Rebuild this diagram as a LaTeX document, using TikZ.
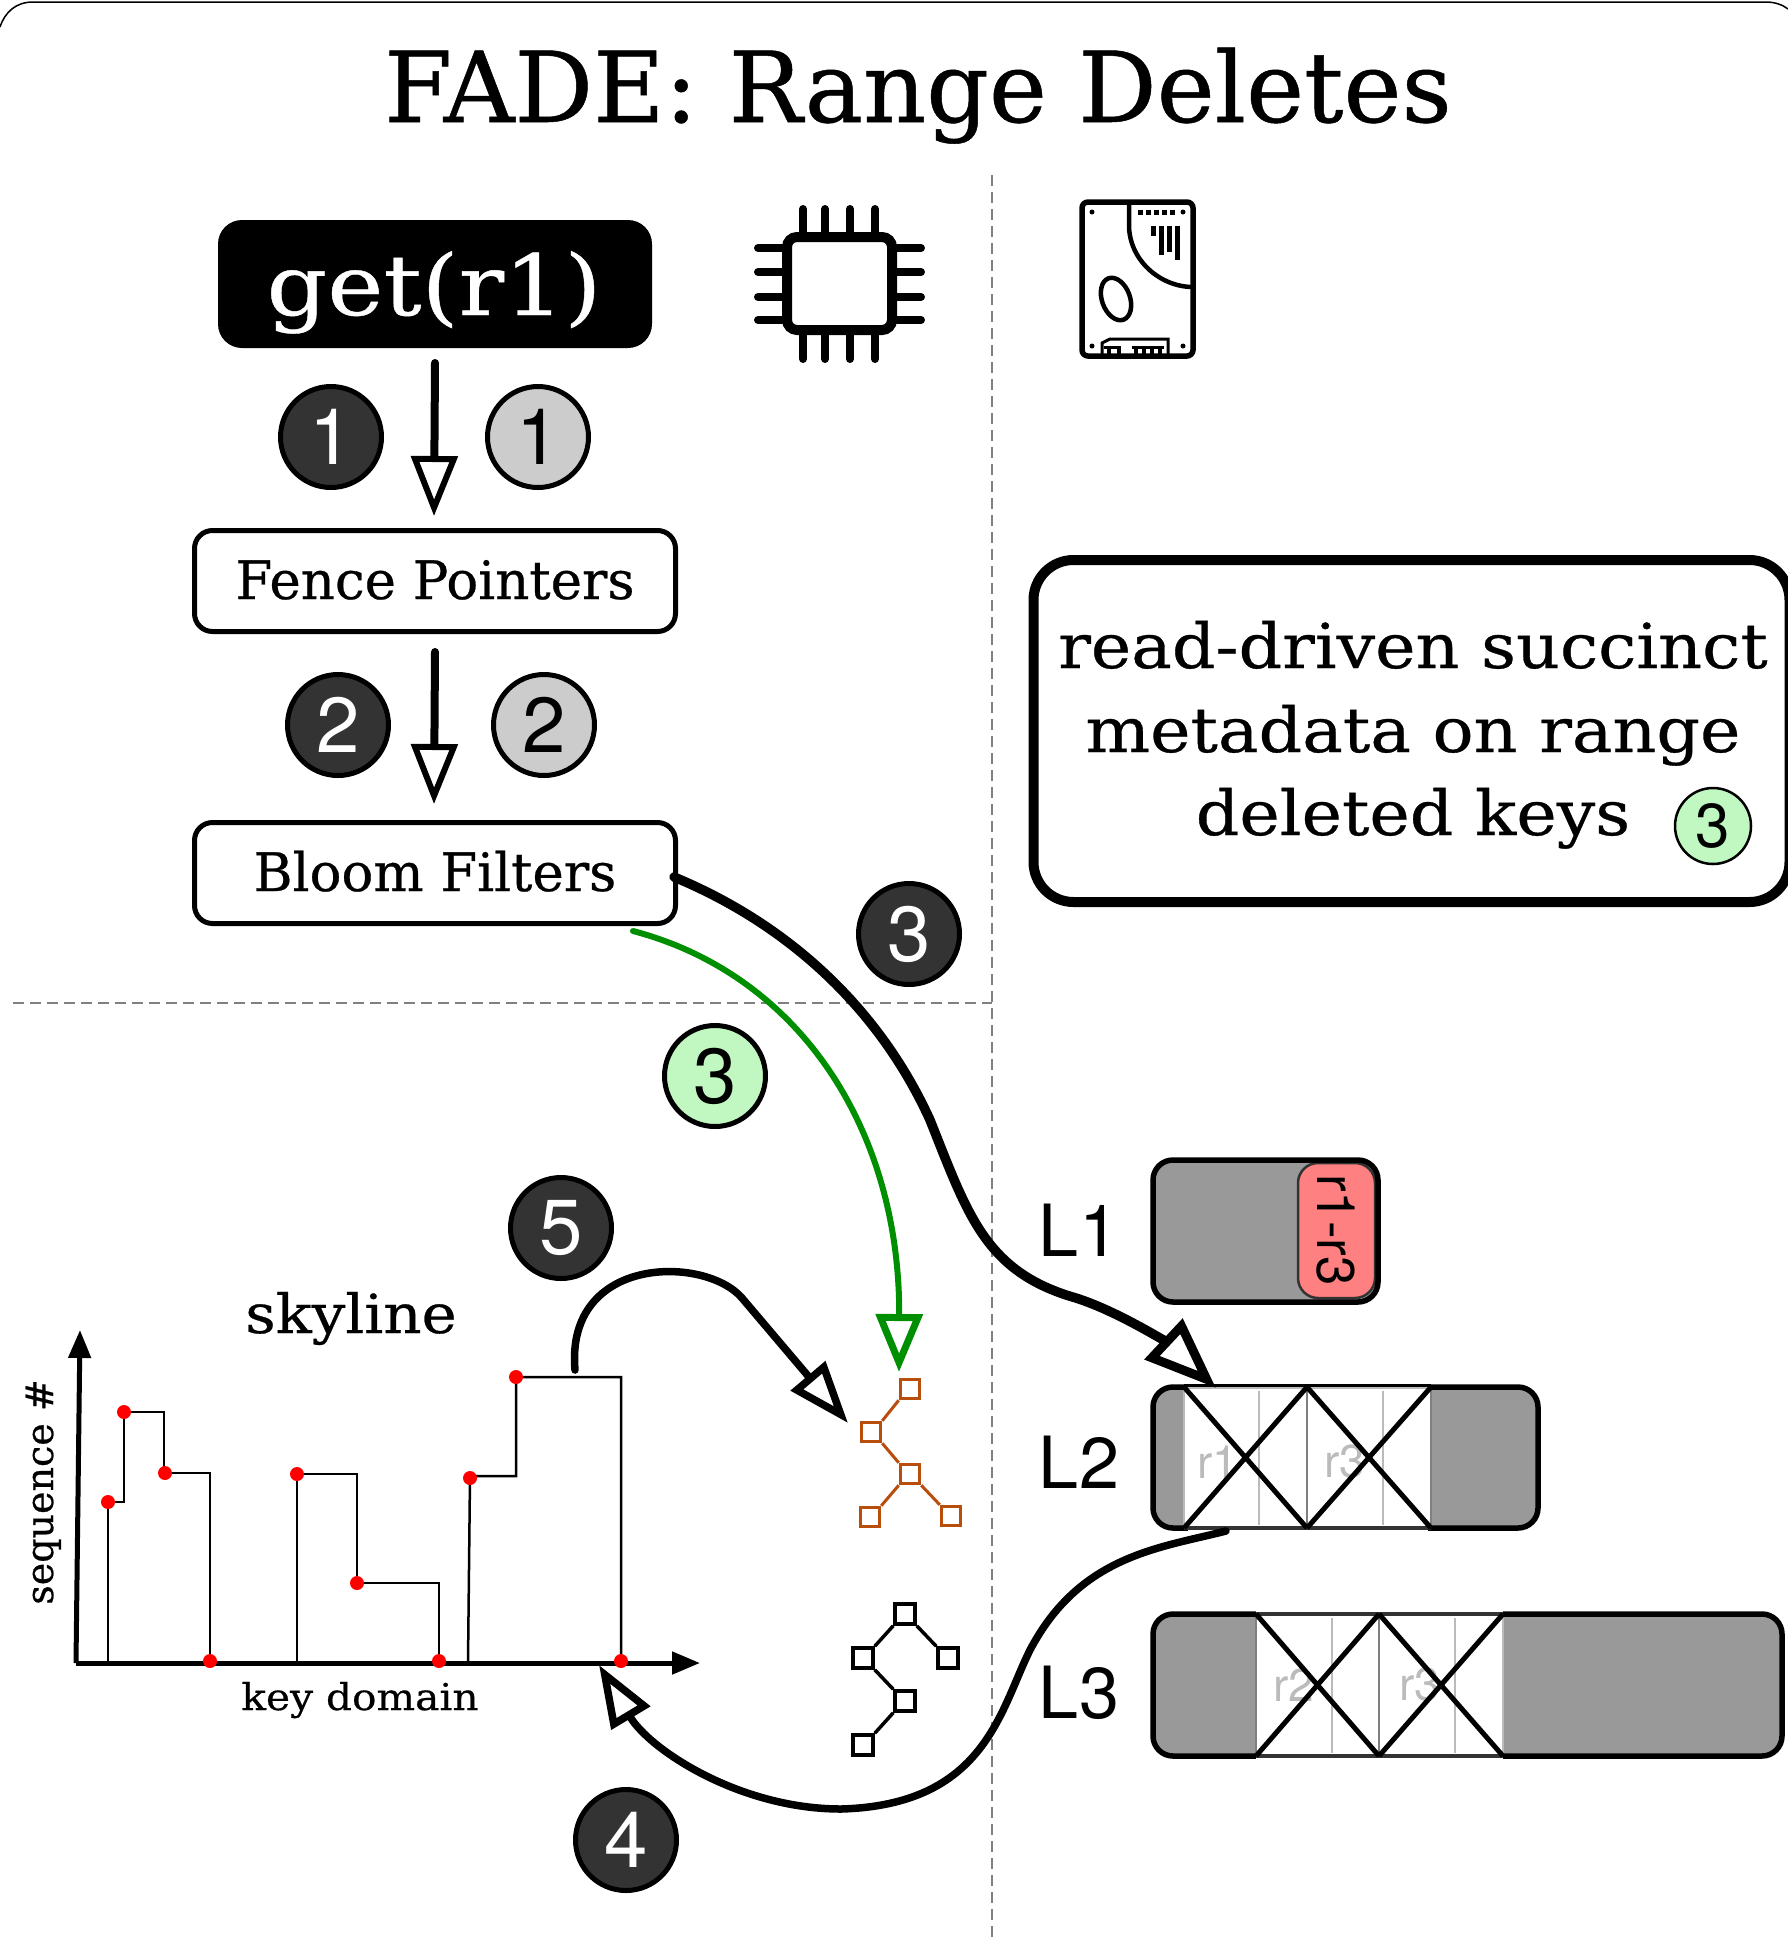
\documentclass[tikz,border=0pt]{standalone}
\usepackage{fontspec}
\usetikzlibrary{arrows.meta,calc}
\newfontfamily\slab[FakeBold=0.5]{DejaVu Serif}
\newfontfamily\slabw[FakeBold=0.5,FakeStretch=1.1]{DejaVu Serif}
\newfontfamily\slabg[FakeBold=0.5,FakeStretch=1.13]{DejaVu Serif}
\newfontfamily\hv{TeX Gyre Heros}
\definecolor{darkc}{HTML}{333333}
\definecolor{lightc}{HTML}{CCCCCC}
\definecolor{greenc}{HTML}{C1F7C1}
\definecolor{greenl}{HTML}{008F00}
\definecolor{lvl}{HTML}{999999}
\definecolor{redb}{HTML}{FF8080}
\definecolor{treeo}{HTML}{B94E0C}
\definecolor{dashc}{HTML}{808080}
\definecolor{ghost}{HTML}{BBBBBB}
\tikzset{
  badge/.style={circle,draw=black,line width=5pt,minimum size=101pt,inner sep=0pt,font=\fontsize{78}{78}\selectfont\hv},
  bdark/.style={badge,fill=darkc,text=white},
  blight/.style={badge,fill=lightc,text=black},
  bgreen/.style={badge,fill=greenc,text=black},
  fbox/.style={draw=black,line width=5pt,rounded corners=18pt,fill=white,inner sep=0pt,minimum width=481pt,minimum height=101pt},
  ftext/.style={anchor=base,inner sep=0pt,font=\fontsize{53}{53}\selectfont\slab},
  notetext/.style={anchor=base,inner sep=0pt,font=\fontsize{62}{62}\selectfont\slabw},
  dashline/.style={draw=dashc,line width=2.5pt,dash pattern=on 11pt off 6pt},
  flowarrow/.style={line width=8pt,line cap=round,-{Triangle[open,fill=white,line width=6pt,length=60pt,width=46pt]}},
  curvearrow/.style={line width=7.5pt,line cap=round,-{Triangle[open,fill=white,line width=7.5pt,length=62pt,width=44pt]}},
  levelbox/.style={draw=black,line width=5.5pt,rounded corners=20pt},
  ghosttext/.style={text=ghost,font=\fontsize{46}{46}\selectfont\hv,inner sep=0pt},
  lvllabel/.style={font=\fontsize{72}{72}\selectfont\hv,inner sep=0pt},
  treeorange/.style={draw=treeo,line width=3pt,minimum size=19.5pt,inner sep=0pt,fill=white},
  treeblack/.style={draw=black,line width=3.5pt,minimum size=20pt,inner sep=0pt,fill=white},
  reddot/.style={circle,fill=red,minimum size=14pt,inner sep=0pt},
  pinline/.style={line width=8pt,line cap=round},
}
\begin{document}
\begin{tikzpicture}[x=1pt,y=-1pt]
\useasboundingbox (0,0) rectangle (1788,1939);
% frame
\draw[line width=1.5pt] (0,27) .. controls (5,12) and (16,2) .. (33,2) -- (1766,2) .. controls (1775,2) and (1783,5) .. (1788,9);
% title
\node[inner sep=0pt,anchor=base] (title) at (918,122) {\fontsize{98}{98}\selectfont\slab FADE: Range Deletes};
% dashed
\draw[dashline] (992,175) -- (992,1939);
\draw[dashline] (13,1003) -- (992,1003);
% get
\node[fill=black,rounded corners=24pt,minimum width=434pt,minimum height=128pt,inner sep=0pt] (get) at (435,284) {};
\node[anchor=base,inner sep=0pt,text=white,font=\fontsize{84}{84}\selectfont\slabg] (gettext) at (434,315) {get(r1)};
% chip
\draw[draw=black,line width=10pt,rounded corners=10pt,fill=white] (787,237) rectangle (892,330);
\foreach \x in {803,825,850,875}{\draw[pinline] (\x,209) -- (\x,232); \draw[pinline] (\x,335) -- (\x,359);}
\foreach \y in {248,272,297,320}{\draw[pinline] (758,\y) -- (782,\y); \draw[pinline] (897,\y) -- (921,\y);}
% disk
\draw[line width=5.5pt,rounded corners=6pt] (1082,202) rectangle (1193,356);
\draw[line width=4.5pt] (1129,202) -- (1129,225) .. controls (1129,260) and (1160,287) .. (1193,287);
\draw[line width=4.5pt,rotate around={20:(1116,299)}] (1116,299) ellipse [x radius=14,y radius=22];
\foreach \p in {(1092,212),(1183,212),(1092,346),(1183,346)}{\fill \p circle (2.5);}
\foreach \x in {1140,1148,1156,1164,1172}{\fill (\x-2.5,209.5) rectangle (\x+2.5,214.5);}
\fill (1150.5,226) rectangle (1155.5,236);
\fill (1158.5,226) rectangle (1163.5,255);
\fill (1166.5,226) rectangle (1171.5,252);
\fill (1174.5,226) rectangle (1179.5,260);
\draw[line width=3pt] (1102,356) -- (1102,343) -- (1110,339) -- (1168,339) -- (1168,356);
\foreach \x in {1107,1117,1134,1142,1150,1158}{\fill (\x,348) rectangle (\x+4,356);}
\fill (1104,346) rectangle (1121,349);
\fill (1132,346) rectangle (1164,349);
% fence pointers, bloom
\node[fbox] (fence) at (435,581) {};
\node[ftext] (fencet) at (435,599) {Fence Pointers};
\node[fbox] (bloom) at (435,873) {};
\node[ftext] (bloomt) at (435,891) {Bloom Filters};
% flow arrows
\coordinate (a1e) at (434,516);
\coordinate (a2e) at (434,804);
\draw[flowarrow] (435,363) -- (a1e);
\draw[flowarrow] (435,652) -- (a2e);
% badges
\node[bdark] (n1a) at (331,437) {1};
\node[blight] (n1b) at (538,437) {1};
\node[bdark] (n2a) at (338,725) {2};
\node[blight] (n2b) at (544,725) {2};
\node[bdark] (n3a) at (909,934) {3};
\node[bgreen] (n3b) at (715,1076) {3};
\node[bdark] (n5) at (561,1228) {5};
\node[bdark] (n4) at (626,1840) {4};
% note box
\node[draw=black,line width=10pt,rounded corners=40pt,minimum width=756pt,minimum height=342pt,inner sep=0pt,outer sep=0pt,anchor=north west] (note) at (1033.5,560) {};
\node[notetext] (nt1) at (1413,668) {read-driven succinct};
\node[notetext] (nt2) at (1413,752) {metadata on range};
\node[notetext] (nt3) at (1413,835) {deleted keys};
\node[badge,fill=greenc,line width=2.5pt,minimum size=76pt,font=\fontsize{62}{62}\selectfont\hv] (n3c) at (1713,826) {3};
% levels
\node[lvllabel] (l1) at (1079,1230) {L1};
\node[lvllabel] (l2) at (1079,1462) {L2};
\node[lvllabel] (l3) at (1079,1693) {L3};
\fill[lvl,rounded corners=20pt] (1153,1160) rectangle (1378,1302);
\fill[redb,draw=darkc,line width=2.5pt,rounded corners=20pt] (1298,1163) rectangle (1375,1298);
\node[rotate=-90,inner sep=0pt,font=\fontsize{53}{53}\selectfont\hv] (r13) at (1336,1230) {r1-r3};
\draw[levelbox] (1153,1160) rectangle (1378,1302);
% L2
\fill[lvl,rounded corners=20pt] (1153,1387) rectangle (1538,1528);
\fill[white] (1184,1387) rectangle (1431,1528);
\draw[ghost,line width=2.5pt] (1259,1387) -- (1259,1528) (1383,1387) -- (1383,1528) (1184,1387) -- (1184,1528);
\draw[dashc,line width=2.5pt] (1307,1387) -- (1307,1528) (1431,1387) -- (1431,1528);
\node[ghosttext] (tr1) at (1218,1462) {r1};
\node[ghosttext] (tr3) at (1345,1462) {r3};
\draw[levelbox] (1153,1387) rectangle (1538,1528);
\fill[white] (1188,1384) rectangle (1428,1390.5);
\fill[white] (1188,1524.5) rectangle (1428,1531);
\draw[line width=2.5pt] (1184,1385.5) -- (1431,1385.5);
\draw[ghost,line width=2pt] (1184,1388) -- (1431,1388);
\draw[darkc,line width=3.5pt] (1184,1528) -- (1431,1528);
\draw[line width=5pt] (1184,1387) -- (1307,1528) (1184,1528) -- (1307,1387) (1307,1387) -- (1431,1528) (1307,1528) -- (1431,1387);
% L3
\fill[lvl,rounded corners=20pt] (1153,1614) rectangle (1782,1756);
\fill[white] (1256,1614) rectangle (1503,1756);
\draw[ghost,line width=2.5pt] (1332,1614) -- (1332,1756) (1455,1614) -- (1455,1756) (1503,1614) -- (1503,1756);
\draw[dashc,line width=2.5pt] (1256,1614) -- (1256,1756) (1379,1614) -- (1379,1756);
\node[ghosttext] (tr2) at (1294,1685) {r2};
\node[ghosttext] (tr4) at (1420,1685) {r3};
\draw[levelbox] (1153,1614) rectangle (1782,1756);
\fill[white] (1256,1611) rectangle (1503,1617.5);
\fill[white] (1256,1752.5) rectangle (1503,1759);
\draw[darkc,line width=3.5pt] (1256,1614) -- (1503,1614) (1256,1756) -- (1503,1756);
\draw[line width=5pt] (1256,1614) -- (1379,1756) (1256,1756) -- (1379,1614) (1379,1614) -- (1503,1756) (1379,1756) -- (1503,1614);
% skyline
\draw[line width=2.5pt,line join=miter] (108,1663) -- (108,1502) -- (124,1502) -- (124,1412) -- (164,1412) -- (164,1473) -- (210,1473) -- (210,1663);
\draw[line width=2.5pt] (297,1663) -- (297,1474) -- (357,1474) -- (357,1583) -- (439,1583) -- (439,1663);
\draw[line width=2.5pt] (468,1663) -- (470,1476) -- (516,1476) -- (516,1377) -- (621,1377) -- (621,1663);
\coordinate (ax0) at (76,1663); \coordinate (axx) at (700,1663); \coordinate (axy) at (80,1330);
\draw[line width=5pt,-{Triangle[length=28pt,width=22pt]}] (ax0) -- (axx);
\draw[line width=5pt,-{Triangle[length=28pt,width=22pt]}] (ax0) -- (axy);
\foreach \p/\n in {(108,1502)/a,(124,1412)/b,(165,1473)/c,(210,1661)/d,(297,1474)/e,(357,1583)/f,(439,1661)/g,(470,1478)/h,(516,1377)/i,(621,1661)/j}{\node[reddot] (dot\n) at \p {};}
\node[anchor=base,inner sep=0pt,font=\fontsize{54}{54}\selectfont\slabw] (sky) at (351,1333) {skyline};
\node[anchor=base,inner sep=0pt,font=\fontsize{37}{37}\selectfont\slabw] (keyd) at (360,1710) {key domain};
\node[anchor=base,rotate=90,inner sep=0pt,font=\fontsize{38}{38}\selectfont\slab] (seq) at (53,1492) {sequence \#};
% trees
\node[treeorange] (o1) at (910,1389) {};
\node[treeorange] (o2) at (871,1432) {};
\node[treeorange] (o3) at (910,1474) {};
\node[treeorange] (o4) at (870,1517) {};
\node[treeorange] (o5) at (951,1516) {};
\draw[treeo,line width=3pt] (o1.south west) -- (o2.north east) (o2.south east) -- (o3.north west) (o3.south west) -- (o4.north east) (o3.south east) -- (o5.north west);
\node[treeblack] (b1) at (905,1614) {};
\node[treeblack] (b2) at (863,1658) {};
\node[treeblack] (b3) at (948,1658) {};
\node[treeblack] (b4) at (905,1701) {};
\node[treeblack] (b5) at (863,1745) {};
\draw[line width=3.5pt] (b1.south west) -- (b2.north east) (b1.south east) -- (b3.north west) (b2.south east) -- (b4.north west) (b4.south west) -- (b5.north east);
% curves
\coordinate (c3s) at ($(bloom.east)+(-4,4)$);
\coordinate (c3e) at (1216,1388);
\draw[line width=9.5pt,line cap=round,-{Triangle[open,fill=white,line width=9pt,length=72pt,width=54pt]}] (c3s) .. controls (790,925) and (880,1010) .. (930,1120) .. controls (968,1215) and (985,1272) .. (1076,1298) .. controls (1120,1312) and (1170,1345) .. (c3e);
\coordinate (gs) at (633,931); \coordinate (ge) at (899,1372);
\draw[greenl,line width=6pt,line cap=round,-{Triangle[open,fill=white,line width=7pt,length=58pt,width=46pt]}] (gs) .. controls (800,975) and (900,1130) .. (ge);
\coordinate (c5s) at (575,1370); \coordinate (c5e) at (848,1423);
\draw[curvearrow] (c5s) .. controls (565,1255) and (705,1255) .. (742,1298) -- (c5e);
\coordinate (c4s) at (1226,1531); \coordinate (c4e) at (599,1665);
\draw[curvearrow] (c4s) .. controls (1160,1548) and (1080,1555) .. (1030,1650) .. controls (1000,1710) and (985,1805) .. (841,1809) .. controls (740,1809) and (650,1750) .. (c4e);
\end{tikzpicture}
\end{document}
